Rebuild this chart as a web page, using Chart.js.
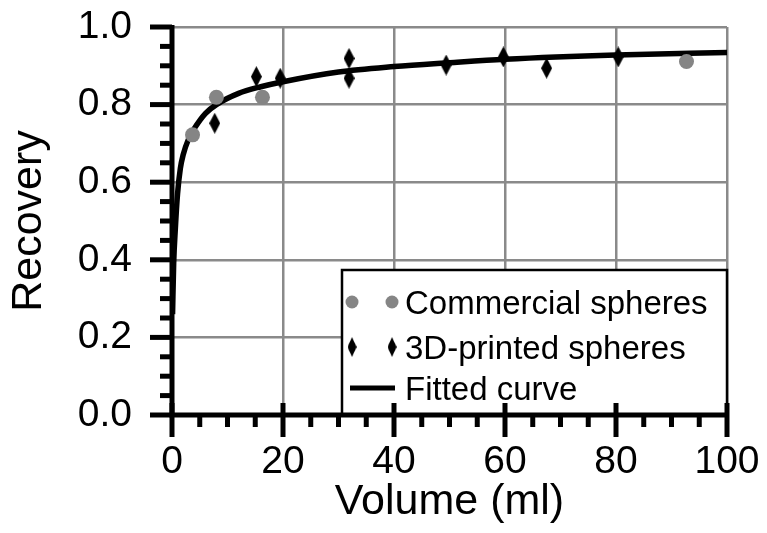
<!DOCTYPE html>
<html lang="en">
    <head>
        <meta charset="UTF-8" />
        <title>Recovery vs Volume</title>
        <script src="https://cdn.jsdelivr.net/npm/chart.js"></script>
        <style>
            html,
            body {
                margin: 0;
                padding: 0;
                background: #ffffff;
            }
        </style>
    </head>
    <body>
        <canvas id="myChart" width="767" height="533"></canvas>
        <script>
            // values
            const commercialVolume = [3.7, 8.0, 16.3, 92.7];
            const commercialRecovery = [0.722, 0.819, 0.819, 0.911];

            const printedVolume = [7.7, 15.2, 19.5, 31.9, 31.9, 49.4, 59.7, 67.5, 80.4];
            const printedRecovery = [0.752, 0.872, 0.868, 0.919, 0.868, 0.902, 0.923, 0.894, 0.923];

            const curveVolume = [0.1, 0.3, 0.6, 1, 1.5, 2, 3, 4, 6, 8, 12, 16, 20, 30, 40, 50, 60, 80, 100];
            const curveRecovery = [0.26, 0.39, 0.48, 0.57, 0.635, 0.67, 0.712, 0.738, 0.777, 0.8, 0.829, 0.846, 0.859, 0.884, 0.898, 0.908, 0.917, 0.928, 0.934];

            const xTicks = [0, 20, 40, 60, 80, 100];
            const yTicks = [0, 0.2, 0.4, 0.6, 0.8, 1.0];
            const minorPerMajor = 4;

            const FONT = "'Liberation Sans', Arial, Helvetica, sans-serif";
            const GRID = "#8a8a8a";

            const toPoints = (xs, ys) => xs.map((x, i) => ({ x: x, y: ys[i] }));

            // tall thin diamond marker
            function diamond(w, h) {
                const c = document.createElement("canvas");
                c.width = w;
                c.height = h;
                const g = c.getContext("2d");
                g.fillStyle = "#000";
                g.beginPath();
                g.moveTo(w / 2, 0);
                g.lineTo(w, h / 2);
                g.lineTo(w / 2, h);
                g.lineTo(0, h / 2);
                g.closePath();
                g.fill();
                return c;
            }
            const diamondMark = diamond(11, 21);

            // no extra room for the edge labels, the layout padding decides the plot area
            const noScalePadding = (s) => {
                s.paddingLeft = 0;
                s.paddingRight = 0;
                s.paddingTop = 0;
                s.paddingBottom = 0;
            };

            // axes, ticks and the boxed legend
            const framePlugin = {
                id: "frame",
                afterDatasetsDraw(chart) {
                    const { ctx, chartArea: a, scales } = chart;
                    const xs = scales.x;
                    const ys = scales.y;
                    ctx.save();

                    // legend box
                    const bx = a.right - 385;
                    const by = a.bottom - 145;
                    ctx.fillStyle = "#fff";
                    ctx.fillRect(bx, by, a.right - bx, a.bottom - by);
                    ctx.strokeStyle = "#000";
                    ctx.lineWidth = 2.5;
                    ctx.strokeRect(bx, by, a.right - bx, a.bottom - by);

                    const rows = [by + 32, by + 77, by + 118];
                    const ds = chart.data.datasets;
                    rows.forEach((ry, i) => {
                        const d = ds[i];
                        if (i === 0) {
                            ctx.fillStyle = d.backgroundColor;
                            [bx + 10, bx + 50].forEach((mx) => {
                                ctx.beginPath();
                                ctx.arc(mx, ry, 6.5, 0, Math.PI * 2);
                                ctx.fill();
                            });
                        } else if (i === 1) {
                            [bx + 10, bx + 50].forEach((mx) => {
                                ctx.drawImage(diamondMark, mx - 4.5, ry - 10, 9, 20);
                            });
                        } else {
                            ctx.strokeStyle = d.borderColor;
                            ctx.lineWidth = 5;
                            ctx.beginPath();
                            ctx.moveTo(bx + 8, ry);
                            ctx.lineTo(bx + 53, ry);
                            ctx.stroke();
                        }
                        ctx.fillStyle = "#000";
                        ctx.font = "33px " + FONT;
                        ctx.textBaseline = "alphabetic";
                        ctx.textAlign = "left";
                        ctx.fillText(d.label, bx + 63, ry + 12);
                    });

                    // axis lines
                    ctx.strokeStyle = "#000";
                    ctx.lineWidth = 5;
                    ctx.beginPath();
                    ctx.moveTo(a.left, a.top - 2);
                    ctx.lineTo(a.left, a.bottom);
                    ctx.lineTo(a.right + 2, a.bottom);
                    ctx.stroke();

                    // x ticks
                    for (let i = 0; i < xTicks.length; i++) {
                        const v = xTicks[i];
                        const px = xs.getPixelForValue(v);
                        ctx.beginPath();
                        ctx.moveTo(px, a.bottom - 12);
                        ctx.lineTo(px, a.bottom + 22);
                        ctx.stroke();
                        if (i < xTicks.length - 1) {
                            const step = (xTicks[i + 1] - v) / minorPerMajor;
                            for (let k = 1; k < minorPerMajor; k++) {
                                const mx = xs.getPixelForValue(v + k * step);
                                ctx.beginPath();
                                ctx.moveTo(mx, a.bottom);
                                ctx.lineTo(mx, a.bottom + 12);
                                ctx.stroke();
                            }
                        }
                    }

                    // y ticks
                    for (let i = 0; i < yTicks.length; i++) {
                        const v = yTicks[i];
                        const py = ys.getPixelForValue(v);
                        ctx.beginPath();
                        ctx.moveTo(a.left - 22, py);
                        ctx.lineTo(a.left, py);
                        ctx.stroke();
                        if (i < yTicks.length - 1) {
                            const step = (yTicks[i + 1] - v) / minorPerMajor;
                            for (let k = 1; k < minorPerMajor; k++) {
                                const my = ys.getPixelForValue(v + k * step);
                                ctx.beginPath();
                                ctx.moveTo(a.left - 12, my);
                                ctx.lineTo(a.left, my);
                                ctx.stroke();
                            }
                        }
                    }
                    ctx.restore();
                },
            };

            const data = {
                datasets: [
                    {
                        label: "Commercial spheres",
                        data: toPoints(commercialVolume, commercialRecovery),
                        backgroundColor: "#858585",
                        borderWidth: 0,
                        pointStyle: "circle",
                        pointRadius: 7.5,
                        showLine: false,
                    },
                    {
                        label: "3D-printed spheres",
                        data: toPoints(printedVolume, printedRecovery),
                        backgroundColor: "#000",
                        borderWidth: 0,
                        pointStyle: diamondMark,
                        pointRadius: 10,
                        showLine: false,
                    },
                    {
                        label: "Fitted curve",
                        data: toPoints(curveVolume, curveRecovery),
                        borderColor: "#000",
                        borderWidth: 5.5,
                        pointRadius: 0,
                        showLine: true,
                        fill: false,
                        cubicInterpolationMode: "monotone",
                    },
                ],
            };

            const config = {
                type: "scatter",
                data: data,
                options: {
                    responsive: false,
                    animation: false,
                    events: [],
                    layout: {
                        padding: { top: 27, right: 40, left: 0, bottom: 0 },
                    },
                    plugins: {
                        legend: { display: false },
                        tooltip: { enabled: false },
                    },
                    scales: {
                        x: {
                            type: "linear",
                            min: 0,
                            max: 100,
                            afterBuildTicks: (s) => {
                                s.ticks = xTicks.map((v) => ({ value: v }));
                            },
                            afterFit: (s) => {
                                s.height = 118;
                                noScalePadding(s);
                            },
                            border: { display: false },
                            grid: {
                                color: GRID,
                                lineWidth: 2.5,
                                drawTicks: false,
                            },
                            ticks: {
                                color: "#000",
                                font: { family: FONT, size: 39 },
                                padding: 24,
                                maxRotation: 0,
                                autoSkip: false,
                            },
                            title: {
                                display: true,
                                text: "Volume (ml)",
                                color: "#000",
                                font: { family: FONT, size: 43 },
                                padding: { top: 0, bottom: 5 },
                            },
                        },
                        y: {
                            type: "linear",
                            min: 0,
                            max: 1,
                            afterBuildTicks: (s) => {
                                s.ticks = yTicks.map((v) => ({ value: v }));
                            },
                            afterFit: (s) => {
                                s.width = 172;
                                noScalePadding(s);
                            },
                            border: { display: false },
                            grid: {
                                color: GRID,
                                lineWidth: 2.5,
                                drawTicks: false,
                            },
                            ticks: {
                                color: "#000",
                                font: { family: FONT, size: 39 },
                                padding: 40,
                                callback: (v) => v.toFixed(1),
                            },
                            title: {
                                display: true,
                                text: "Recovery",
                                color: "#000",
                                font: { family: FONT, size: 43 },
                                padding: { top: 3, bottom: 0 },
                            },
                        },
                    },
                },
                plugins: [framePlugin],
            };

            const myChart = new Chart(document.getElementById("myChart"), config);
        </script>
    </body>
</html>
